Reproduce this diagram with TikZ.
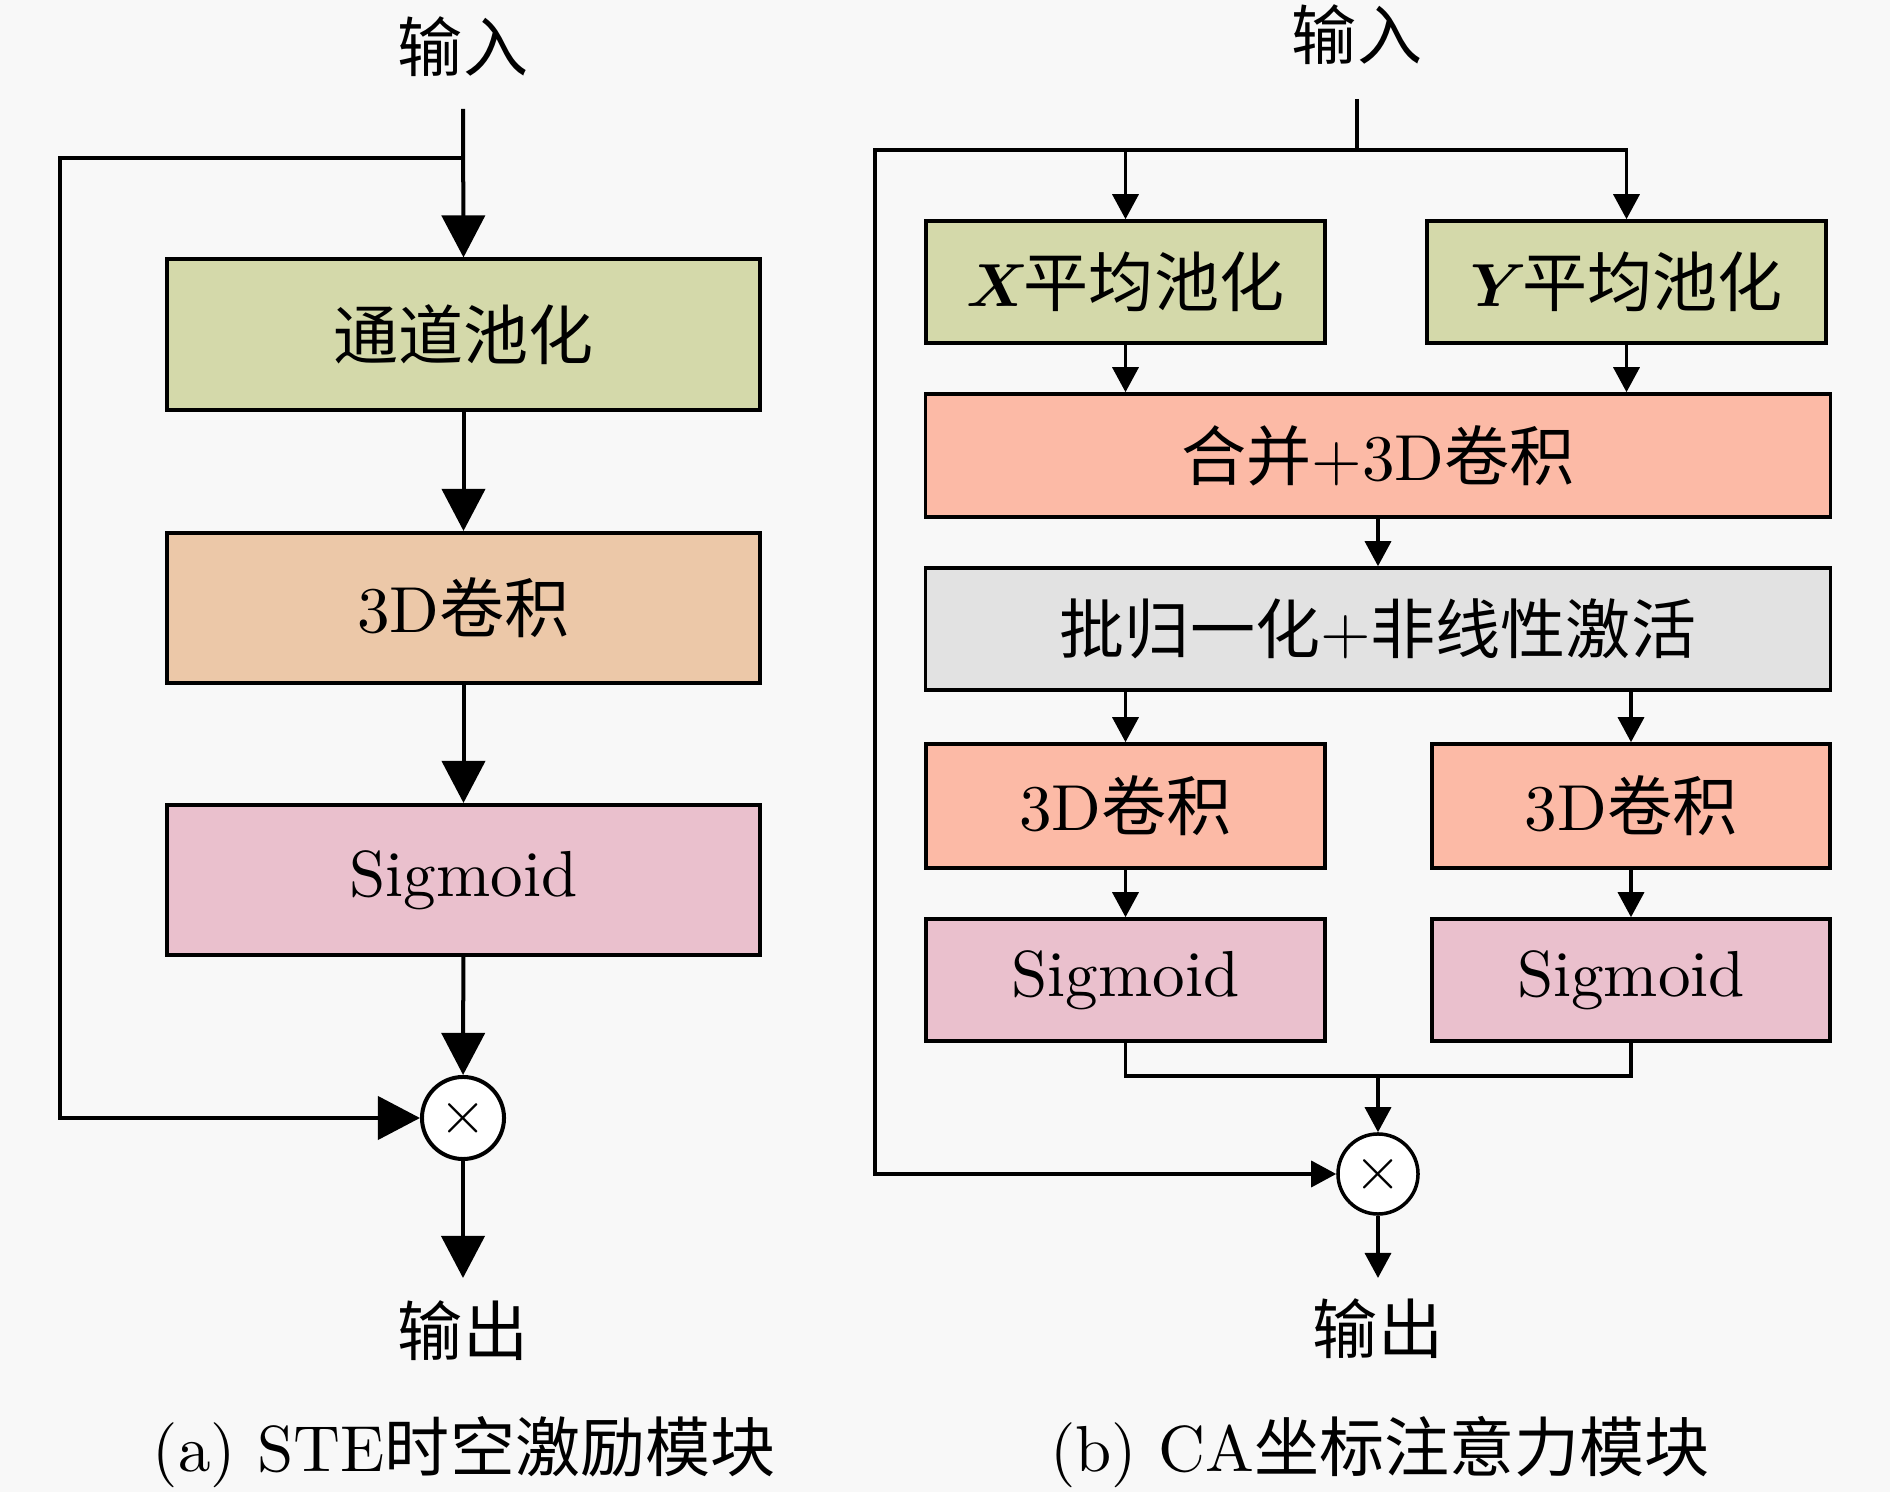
\documentclass[tikz,border=0pt]{standalone}
\usepackage{amsmath}
\usepackage{fontspec}
\setmainfont{lmroman10-regular}[Extension=.otf,ItalicFont=lmroman10-italic,BoldFont=lmroman10-bold,BoldItalicFont=lmroman10-bolditalic]
\newfontfamily\cjk{Noto Sans CJK SC}
\newcommand{\zh}[1]{{\cjk #1}}
\usetikzlibrary{arrows.meta,positioning,calc}
\definecolor{bgc}{RGB}{248,248,248}
\definecolor{cgreen}{RGB}{212,217,170}
\definecolor{corange}{RGB}{236,200,168}
\definecolor{cpink}{RGB}{234,192,205}
\definecolor{csalmon}{RGB}{252,186,166}
\definecolor{cgray}{RGB}{226,226,226}
\begin{document}
\begin{tikzpicture}[x=0.01cm,y=-0.01cm,
  every node/.style={font=\fontsize{18.5}{22}\selectfont},
  boxA/.style={draw,line width=0.04cm,inner sep=0pt,minimum width=5.93cm,minimum height=1.50cm},
  boxB/.style={draw,line width=0.035cm,inner sep=0pt,minimum width=3.99cm,minimum height=1.22cm},
  boxW/.style={draw,line width=0.035cm,inner sep=0pt,minimum width=9.04cm,minimum height=1.22cm},
  mulnodeA/.style={draw,circle,line width=0.04cm,fill=white,inner sep=0pt,minimum size=0.82cm},
  mulnodeB/.style={draw,circle,line width=0.035cm,fill=white,inner sep=0pt,minimum size=0.80cm},
  lnA/.style={line width=0.04cm},
  lnB/.style={line width=0.035cm},
  arrA/.style={line width=0.04cm,-{Triangle[length=0.42cm,width=0.43cm]}},
  arrB/.style={line width=0.035cm,-{Triangle[length=0.25cm,width=0.26cm]}},
  lbl/.style={inner sep=0pt}
]
\fill[bgc] (0,0) rectangle (1890,1492);
\useasboundingbox (0,0) rectangle (1890,1492);

% ---------------- (a) ----------------
\node[lbl] (inA) at (463,47) {\zh{输入}};
\coordinate (inAtop) at (463,109);
\coordinate (splitA) at (463,158);
\node[boxA,fill=cgreen] (poolA) at (463.5,334.5) {\zh{通道池化}};
\node[boxA,fill=corange] (convA) at (463.5,608) {3D\zh{卷积}};
\node[boxA,fill=cpink] (sigA) at (463.5,880) {Sigmoid};
\node[mulnodeA] (mulA) at (463,1118) {$\times$};
\coordinate (outAtip) at (463,1278);
\node[lbl] (outA) at (463,1331) {\zh{输出}};
\node[lbl] (capA) at (464,1452) {(a) STE\zh{时空激励模块}};
\coordinate (loopA) at (60,1118);

\draw[arrA] (inAtop) -- (poolA.north);
\draw[arrA] (poolA) -- (convA);
\draw[arrA] (convA) -- (sigA);
\draw[arrA] (sigA) -- (mulA);
\draw[arrA] (mulA) -- (outAtip);
\draw[arrA] (splitA) -| (loopA) -- (mulA);

% ---------------- (b) ----------------
\node[lbl] (inB) at (1357,35) {\zh{输入}};
\coordinate (inBtop) at (1357,99);
\coordinate (splitB) at (1357,150);
\node[boxB,fill=cgreen] (xpool) at (1125.5,282) {$\boldsymbol{X}$\kern-0.08em\zh{平均池化}};
\node[boxB,fill=cgreen] (ypool) at (1626.5,282) {$\boldsymbol{Y}$\kern-0.08em\zh{平均池化}};
\node[boxW,fill=csalmon,minimum height=1.23cm] (merge) at (1378,455.5) {\zh{合并}+3D\zh{卷积}};
\node[boxW,fill=cgray] (bn) at (1378,629) {\zh{批归一化}+\zh{非线性激活}};
\node[boxB,fill=csalmon,minimum height=1.24cm] (convL) at (1125.5,806) {3D\zh{卷积}};
\node[boxB,fill=csalmon,minimum height=1.24cm,minimum width=3.98cm] (convR) at (1631,806) {3D\zh{卷积}};
\node[boxB,fill=cpink] (sigL) at (1125.5,980) {Sigmoid};
\node[boxB,fill=cpink,minimum width=3.98cm] (sigR) at (1631,980) {Sigmoid};
\coordinate (joinB) at (1378,1076);
\node[mulnodeB] (mulB) at (1378,1174) {$\times$};
\coordinate (outBtip) at (1378,1278);
\node[lbl] (outB) at (1378,1329) {\zh{输出}};
\node[lbl] (capB) at (1380,1452) {(b) CA\zh{坐标注意力模块}};
\coordinate (loopB) at (875,1174);

\draw[lnB] (inBtop) -- (splitB);
\draw[arrB] (splitB) -| (xpool.north);
\draw[arrB] (splitB) -| (ypool.north);
\draw[arrB] (xpool.south) -- (xpool.south |- merge.north);
\draw[arrB] (ypool.south) -- (ypool.south |- merge.north);
\draw[arrB] (merge) -- (bn);
\draw[arrB] (bn.south -| convL.north) -- (convL.north);
\draw[arrB] (bn.south -| convR.north) -- (convR.north);
\draw[arrB] (convL) -- (sigL);
\draw[arrB] (convR) -- (sigR);
\draw[lnB] (sigL.south) |- (joinB) -| (sigR.south);
\draw[arrB] (joinB) -- (mulB);
\draw[arrB] (mulB) -- (outBtip);
\draw[arrB] (splitB) -| (loopB) -- (mulB);
\end{tikzpicture}
\end{document}
